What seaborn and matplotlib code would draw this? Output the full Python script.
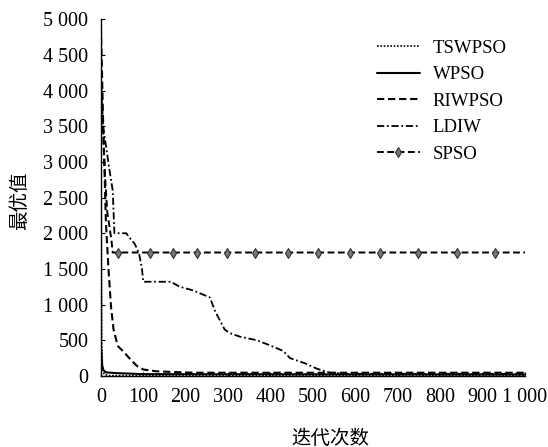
import matplotlib
matplotlib.use("Agg")
import matplotlib.pyplot as plt
import seaborn as sns
import pandas as pd
import numpy as np

# ---- data ----
tswpso_iter = [0, 1, 2, 4, 8, 20, 1000]
tswpso_val = [4950, 2000, 500, 100, 20, 5, 3]

wpso_iter = [0, 1, 3, 6, 12, 35, 100, 1000]
wpso_val = [420, 350, 150, 80, 50, 40, 25, 20]

riwpso_iter = [0, 3, 6, 9, 12, 18, 24, 30, 40, 55, 70, 85, 100, 130, 170, 220, 300, 1000]
riwpso_val = [4900, 4200, 3400, 2800, 2150, 1500, 970, 650, 420, 330, 230, 140, 90, 65, 55, 45, 45, 45]

ldiw_iter = [0, 5, 12, 20, 28, 32, 60, 66, 80, 90, 97, 100, 165, 186, 217, 257, 270, 292, 304,
             328, 368, 398, 430, 446, 480, 510, 540, 580, 1000]
ldiw_val = [3700, 3500, 3230, 2900, 2600, 2000, 2000, 1950, 1850, 1720, 1500, 1320, 1320, 1250,
            1200, 1100, 900, 650, 600, 550, 500, 430, 350, 250, 180, 100, 45, 30, 30]

spso_iter = [0, 5, 10, 15, 19, 25, 28, 40, 116, 170, 226, 297, 363, 441, 512, 587, 658, 748,
             840, 929, 1000]
spso_val = [4200, 3500, 2800, 2300, 2150, 1900, 1730, 1730, 1730, 1730, 1730, 1730, 1730, 1730,
            1730, 1730, 1730, 1730, 1730, 1730, 1730]
spso_marker_iters = [40, 116, 170, 226, 297, 363, 441, 512, 587, 658, 748, 840, 929]

x_ticks = [0, 100, 200, 300, 400, 500, 600, 700, 800, 900, 1000]
x_tick_labels = ["0", "100", "200", "300", "400", "500", "600", "700", "800", "900", "1 000"]
y_ticks = [0, 500, 1000, 1500, 2000, 2500, 3000, 3500, 4000, 4500, 5000]
y_tick_labels = ["0", "500", "1 000", "1 500", "2 000", "2 500", "3 000", "3 500", "4 000",
                 "4 500", "5 000"]

x_label = "迭代次数"
y_label = "最优值"

# ---- style ----
sns.set_theme(style="ticks")
plt.rcParams["font.family"] = ["Liberation Serif", "Noto Sans CJK SC", "DejaVu Sans"]
plt.rcParams["xtick.direction"] = "in"
plt.rcParams["ytick.direction"] = "in"

fig = plt.figure(figsize=(5.48, 4.47), dpi=100)
ax = fig.add_axes([0.184, 0.159, 0.774, 0.798])

series = [
    ("TSWPSO", tswpso_iter, tswpso_val, dict(linestyle=(0, (1, 1)), linewidth=1.2)),
    ("WPSO", wpso_iter, wpso_val, dict(linestyle="-", linewidth=1.5)),
    ("RIWPSO", riwpso_iter, riwpso_val, dict(linestyle=(0, (3.5, 1.8)), linewidth=1.5)),
    ("LDIW", ldiw_iter, ldiw_val, dict(linestyle=(0, (4, 1.5, 1, 1.5)), linewidth=1.3)),
]
for name, xs, ys, kw in series:
    df = pd.DataFrame({"iter": xs, "val": ys})
    sns.lineplot(data=df, x="iter", y="val", ax=ax, color="black", label=name,
                 estimator=None, sort=False, **kw)

spso_df = pd.DataFrame({"iter": spso_iter, "val": spso_val})
mark_idx = [i for i, v in enumerate(spso_iter) if v in spso_marker_iters]
sns.lineplot(data=spso_df, x="iter", y="val", ax=ax, color="black", label="SPSO",
             estimator=None, sort=False, linestyle=(0, (3.5, 1.8)), linewidth=1.4,
             marker="d", markersize=5, markerfacecolor="#777777", markeredgecolor="#333333",
             markeredgewidth=0.8, markevery=mark_idx)

ax.set_xlim(0, 1000)
ax.set_ylim(0, 5000)
ax.set_xticks(x_ticks)
ax.set_xticklabels(x_tick_labels)
ax.set_yticks(y_ticks)
ax.set_yticklabels(y_tick_labels)
ax.tick_params(axis="both", labelsize=14.5, length=3, width=0.8, colors="black")
ax.tick_params(axis="x", pad=9)
ax.tick_params(axis="y", pad=9)
for s in ["top", "right"]:
    ax.spines[s].set_visible(False)
for s in ["left", "bottom"]:
    ax.spines[s].set_color("black")
    ax.spines[s].set_linewidth(1.0)

ax.set_xlabel(x_label, fontsize=14, color="black")
ax.set_ylabel(y_label, fontsize=14, color="black")
ax.xaxis.set_label_coords(0.54, -0.175)
ax.yaxis.set_label_coords(-0.19, 0.49)
ax.xaxis.label.set_va("center")
ax.yaxis.label.set_va("center")

leg = ax.legend(loc="upper right", bbox_to_anchor=(0.975, 0.964), frameon=False, fontsize=13.5,
                handlelength=2.3, handletextpad=0.7, labelspacing=0.5, borderaxespad=0.0)
for t in leg.get_texts():
    t.set_color("black")

fig.savefig("out.png", dpi=100)
